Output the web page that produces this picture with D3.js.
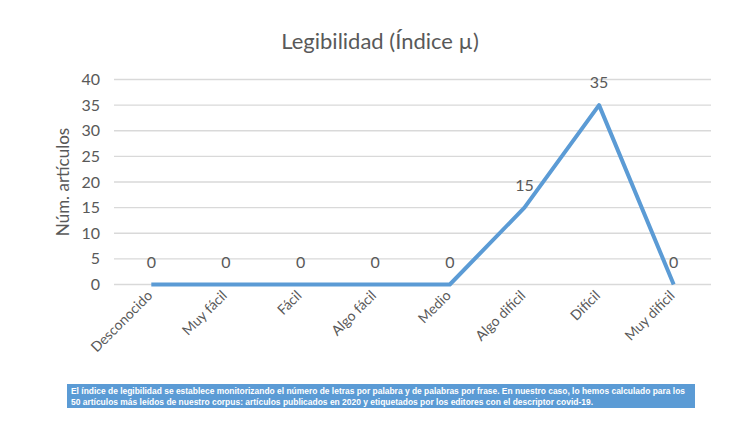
<!DOCTYPE html>
<html>
<head>
<meta charset="utf-8">
<script src="https://d3js.org/d3.v7.min.js"></script>
<style>
  body { margin: 0; background: #fff; }
  svg text { font-family: Lato, "Open Sans", sans-serif; }
</style>
</head>
<body>
<div id="chart"></div>
<script>
var categories = ["Desconocido", "Muy fácil", "Fácil", "Algo fácil", "Medio", "Algo difícil", "Difícil", "Muy difícil"];
var values = [0, 0, 0, 0, 0, 15, 35, 0];
var yTicks = [0, 5, 10, 15, 20, 25, 30, 35, 40];
var note = [
  "El índice de legibilidad se establece monitorizando el número de letras por palabra y de palabras por frase. En nuestro caso, lo hemos calculado para los",
  "50 artículos más leídos de nuestro corpus: artículos publicados en 2020 y etiquetados por los editores con el descriptor covid-19."
];

var W = 754, H = 424;
var mLeft = 114, mRight = 711, mTop = 79.5, mBottom = 284.5;

var svg = d3.select("#chart").append("svg")
  .attr("width", W).attr("height", H);

var x = d3.scaleBand().domain(categories).range([mLeft, mRight]);
var y = d3.scaleLinear().domain([0, 40]).range([mBottom, mTop]);

// grid
svg.append("g").selectAll("line")
  .data(yTicks).enter().append("line")
  .attr("x1", mLeft).attr("x2", mRight)
  .attr("y1", function(d){ return y(d) }).attr("y2", function(d){ return y(d) })
  .attr("stroke", "#d9d9d9").attr("stroke-width", 1.3);

// y axis labels
svg.append("g").selectAll("text")
  .data(yTicks).enter().append("text")
  .attr("x", mLeft - 14).attr("y", function(d){ return y(d) })
  .attr("dy", "0.35em")
  .attr("text-anchor", "end")
  .attr("font-size", 16).attr("fill", "#595959")
  .text(function(d){ return d });

// x labels
svg.append("g").selectAll("text")
  .data(categories).enter().append("text")
  .attr("transform", function(d){
    return "translate(" + (x(d) + x.bandwidth() / 2 + 2) + "," + (mBottom + 12) + ") rotate(-45)";
  })
  .attr("text-anchor", "end")
  .attr("font-size", 14).attr("fill", "#595959")
  .text(function(d){ return d });

// line
var line = d3.line()
  .x(function(d, i){ return x(categories[i]) + x.bandwidth() / 2 })
  .y(function(d){ return y(d) });

svg.append("path")
  .datum(values)
  .attr("d", line)
  .attr("fill", "none")
  .attr("stroke", "#5b9bd5")
  .attr("stroke-width", 4)
  .attr("stroke-linejoin", "round");

// data labels
svg.append("g").selectAll("text")
  .data(values).enter().append("text")
  .attr("x", function(d, i){ return x(categories[i]) + x.bandwidth() / 2 })
  .attr("y", function(d){ return y(d) - 17 })
  .attr("text-anchor", "middle")
  .attr("font-size", 16).attr("fill", "#595959")
  .text(function(d){ return d });

// title
svg.append("text")
  .attr("x", 380).attr("y", 49)
  .attr("text-anchor", "middle")
  .attr("font-size", 22).attr("fill", "#595959")
  .text("Legibilidad (Índice µ)");

// y title
svg.append("text")
  .attr("transform", "translate(69," + ((mTop + mBottom) / 2) + ") rotate(-90)")
  .attr("text-anchor", "middle")
  .attr("font-size", 17).attr("fill", "#595959")
  .text("Núm. artículos");

// note box
svg.append("rect")
  .attr("x", 67).attr("y", 384).attr("width", 628).attr("height", 24)
  .attr("fill", "#5b9bd5");

var noteLen = [614, 522];
svg.append("g").selectAll("text")
  .data(note).enter().append("text")
  .attr("x", 71).attr("y", function(d, i){ return 394 + i * 10.5 })
  .style("font-family", "'Liberation Sans', Arial, sans-serif")
  .attr("font-size", 8.8).attr("font-weight", "bold").attr("fill", "#fff")
  .attr("textLength", function(d, i){ return noteLen[i] })
  .attr("lengthAdjust", "spacingAndGlyphs")
  .text(function(d){ return d });
</script>
</body>
</html>
